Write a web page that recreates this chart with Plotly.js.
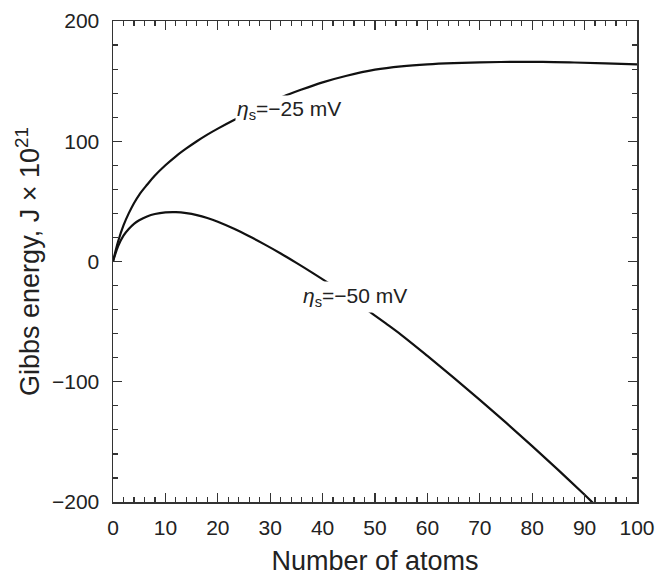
<!DOCTYPE html>
<html>
<head>
<meta charset="utf-8">
<script src="https://cdn.plot.ly/plotly-3.0.1.min.js"></script>
<style>html,body{margin:0;padding:0;background:#fff;}#chart{width:660px;height:576px;}</style>
</head>
<body>
<div id="chart"></div>
<script>
// Number of atoms (x) and Gibbs energy (J x 10^21)
const atoms25 = [0, 1, 2, 3, 4, 5, 6.5, 8, 10, 12, 14, 16, 18, 20, 23, 26, 29, 32.4, 36, 40, 44.6, 50, 55, 60, 65, 70, 76, 82, 88, 94, 100];
const gibbs25 = [0, 17, 30, 40, 48.5, 55.5, 63.8, 71.5, 80, 87.5, 94, 100, 105.5, 110.5, 117.5, 124, 130, 137, 143, 149, 154.5, 159.5, 162.3, 164, 165, 165.6, 166, 166, 165.5, 164.8, 164];

const atoms50 = [0, 1, 2, 3, 4, 5, 6.5, 8, 10, 12, 14, 16, 18, 20, 23, 26, 29, 32, 35, 38, 41, 45, 48.5, 52, 55, 60, 65, 70, 75, 80, 85, 90, 92];
const gibbs50 = [0, 13, 21.5, 27, 31.3, 34.3, 37.5, 39.5, 40.8, 41, 40.2, 38.6, 36.2, 33.1, 27.4, 20.95, 14.05, 6.7, -1.1, -9.2, -17.6, -29.4, -40.25, -51.3, -61, -78.5, -96.5, -115, -134, -153.5, -173.5, -194, -202.5];

const label25 = "<i>η</i><sub>s</sub>=−25 mV";
const label50 = "<i>η</i><sub>s</sub>=−50 mV";
const label25Pos = [33.6, 125.6];
const label50Pos = [46.2, -29.8];

const xTitle = "Number of atoms";
const yTitle = "Gibbs energy, J × 10<sup>21</sup>";

const FONT = 'Liberation Sans, Arial, sans-serif';
const lineStyle = {color: '#111', width: 2.2, shape: 'spline', smoothing: 1};

const traces = [
  {x: atoms25, y: gibbs25, type: 'scatter', mode: 'lines', line: lineStyle, showlegend: false, hoverinfo: 'skip'},
  {x: atoms50, y: gibbs50, type: 'scatter', mode: 'lines', line: lineStyle, showlegend: false, hoverinfo: 'skip'}
];

const axisCommon = {
  showgrid: false, zeroline: false,
  showline: true, linecolor: '#333', linewidth: 1.5, mirror: 'allticks',
  ticks: 'inside', ticklen: 9, tickwidth: 1.2, tickcolor: '#333',
  tickfont: {family: FONT, size: 21, color: '#222'}
};

const layout = {
  width: 660, height: 576,
  margin: {l: 113, r: 23, t: 21, b: 74},
  paper_bgcolor: '#fff', plot_bgcolor: '#fff',
  xaxis: Object.assign({}, axisCommon, {
    range: [0, 100], dtick: 10, tick0: 0,
    ticklabelstandoff: 6,
    minor: {dtick: 2, ticks: 'inside', ticklen: 5, tickwidth: 1.2, tickcolor: '#333', showgrid: false},
    title: {text: xTitle, font: {family: FONT, size: 27, color: '#222'}, standoff: 14}
  }),
  yaxis: Object.assign({}, axisCommon, {
    range: [-200, 200], dtick: 100, tick0: 0,
    tickformat: 'd',
    ticklabelstandoff: 8,
    minor: {dtick: 20, ticks: 'inside', ticklen: 5, tickwidth: 1.2, tickcolor: '#333', showgrid: false},
    title: {text: yTitle, font: {family: FONT, size: 27, color: '#222'}, standoff: 4}
  }),
  annotations: [
    {x: label25Pos[0], y: label25Pos[1], xref: 'x', yref: 'y', text: label25, showarrow: false,
     font: {family: FONT, size: 21, color: '#222'}, bgcolor: '#fff', borderpad: 1},
    {x: label50Pos[0], y: label50Pos[1], xref: 'x', yref: 'y', text: label50, showarrow: false,
     font: {family: FONT, size: 21, color: '#222'}, bgcolor: '#fff', borderpad: 2}
  ]
};

Plotly.newPlot('chart', traces, layout, {staticPlot: true, displayModeBar: false});
</script>
</body>
</html>
